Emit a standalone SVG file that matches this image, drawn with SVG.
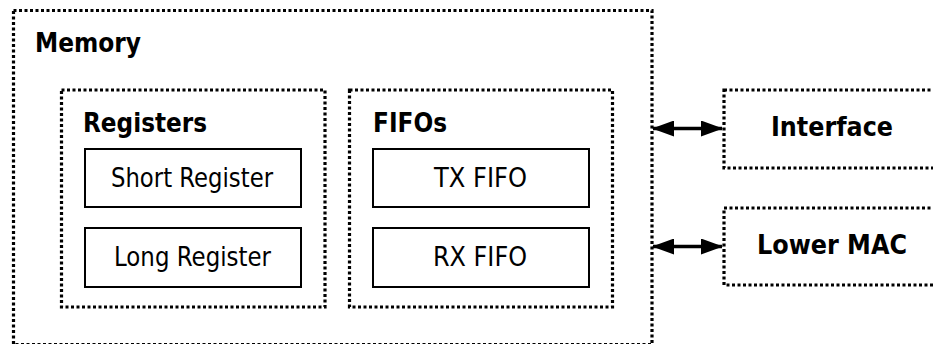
<svg xmlns="http://www.w3.org/2000/svg" width="933" height="344" viewBox="0 0 933 344">
<style>
.dot{fill:none;stroke:#000;stroke-width:3.2;stroke-dasharray:3 2.5}
.box{fill:#fff;stroke:#000;stroke-width:2}
.t{font-family:"DejaVu Sans","Liberation Sans",sans-serif;font-size:27px;fill:#000}
.b{font-family:"DejaVu Sans","Liberation Sans",sans-serif;font-size:26px;font-weight:bold;fill:#000}
.conn{stroke:#000;stroke-width:3.5;fill:none;marker-start:url(#ah);marker-end:url(#ah)}
</style>
<defs>
<marker id="ah" viewBox="0 0 22 16" refX="21" refY="8" markerWidth="22" markerHeight="16" markerUnits="userSpaceOnUse" orient="auto-start-reverse">
<path d="M0,0 L22,8 L0,16 Z" fill="#000"/>
</marker>
</defs>
<rect width="933" height="344" fill="#fff"/>
<g id="memory">
<rect class="dot" x="13.5" y="10.5" width="638.5" height="334"/>
<text class="b" x="35" y="52" textLength="106" lengthAdjust="spacingAndGlyphs">Memory</text>
</g>
<g id="registers">
<rect class="dot" x="61.5" y="90" width="263.5" height="217"/>
<text class="b" x="83" y="132" textLength="124" lengthAdjust="spacingAndGlyphs">Registers</text>
</g>
<g id="short-register">
<rect class="box" x="85" y="149" width="216" height="58"/>
<text class="t" x="111" y="187" textLength="162" lengthAdjust="spacingAndGlyphs">Short Register</text>
</g>
<g id="long-register">
<rect class="box" x="85" y="228" width="216" height="59"/>
<text class="t" x="114" y="266" textLength="157" lengthAdjust="spacingAndGlyphs">Long Register</text>
</g>
<g id="fifos">
<rect class="dot" x="349.5" y="90" width="263" height="217"/>
<text class="b" x="373" y="132" textLength="74" lengthAdjust="spacingAndGlyphs">FIFOs</text>
</g>
<g id="tx-fifo">
<rect class="box" x="373" y="149" width="216" height="58"/>
<text class="t" x="434" y="187" textLength="93" lengthAdjust="spacingAndGlyphs">TX FIFO</text>
</g>
<g id="rx-fifo">
<rect class="box" x="373" y="228" width="216" height="59"/>
<text class="t" x="433" y="266" textLength="94" lengthAdjust="spacingAndGlyphs">RX FIFO</text>
</g>
<g id="interface">
<rect class="dot" x="724" y="90" width="220" height="78"/>
<text class="b" x="771" y="136" textLength="122" lengthAdjust="spacingAndGlyphs">Interface</text>
</g>
<g id="lower-mac">
<rect class="dot" x="724" y="208" width="220" height="77"/>
<text class="b" x="757" y="254" textLength="150" lengthAdjust="spacingAndGlyphs">Lower MAC</text>
</g>
<g id="connectors">
<line class="conn" x1="653" y1="128.5" x2="722" y2="128.5"/>
<line class="conn" x1="653" y1="246.5" x2="722" y2="246.5"/>
</g>
</svg>
